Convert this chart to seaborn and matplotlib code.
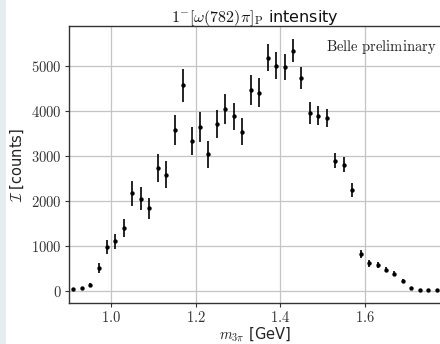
import numpy as np
import pandas as pd
import matplotlib
matplotlib.use("Agg")
import matplotlib.pyplot as plt
import seaborn as sns
from matplotlib.patches import Rectangle

# ---- data ----
mass = [0.91, 0.93, 0.95, 0.97, 0.99, 1.01, 1.03, 1.05, 1.07, 1.09,
        1.11, 1.13, 1.15, 1.17, 1.19, 1.21, 1.23, 1.25, 1.27, 1.29,
        1.31, 1.33, 1.35, 1.37, 1.39, 1.41, 1.43, 1.45, 1.47, 1.49,
        1.51, 1.53, 1.55, 1.57, 1.59, 1.61, 1.63, 1.65, 1.67, 1.69,
        1.71, 1.73, 1.75, 1.77]
intensity = [30, 50, 135, 510, 970, 1095, 1385, 2165, 2045, 1830,
             2720, 2580, 3570, 4565, 3320, 3630, 3030, 3700, 4030, 3870,
             3530, 4460, 4400, 5175, 5000, 4965, 5335, 4730, 3950, 3890,
             3830, 2890, 2795, 2235, 815, 605, 565, 465, 370, 220,
             60, 10, 5, 5]
errors = [15, 20, 40, 110, 165, 160, 200, 280, 250, 235,
          310, 300, 335, 370, 315, 330, 300, 310, 335, 310,
          300, 335, 315, 300, 305, 290, 265, 250, 240, 220,
          200, 175, 165, 150, 90, 75, 65, 60, 55, 45,
          25, 10, 8, 8]
xtick_vals = [1.0, 1.2, 1.4, 1.6]
xtick_labels = ["$1.0$", "$1.2$", "$1.4$", "$1.6$"]
ytick_vals = [0, 1000, 2000, 3000, 4000, 5000]
ytick_labels = ["$0$", "$1000$", "$2000$", "$3000$", "$4000$", "$5000$"]

df = pd.DataFrame({"m": mass, "I": intensity, "err": errors})

sns.set_theme(style="whitegrid")
plt.rcParams["font.family"] = ["DejaVu Sans"]
plt.rcParams["mathtext.fontset"] = "cm"

fig = plt.figure(figsize=(4.4, 3.44), dpi=100)
fig.patch.set_facecolor("white")
fig.patches.append(Rectangle((0, 0), 6 / 440, 1, transform=fig.transFigure,
                             facecolor="#e5edf0", edgecolor="none", zorder=-10))
ax = fig.add_axes([69 / 440, 41 / 344, 372 / 440, 277 / 344])
ax.set_facecolor("white")

ax.errorbar(df["m"], df["I"], yerr=df["err"], fmt="none", ecolor="black",
            elinewidth=1.2, capsize=0, zorder=3)
sns.scatterplot(data=df, x="m", y="I", ax=ax, color="black", s=10,
                edgecolor="black", linewidth=0, zorder=4)

ax.set_xlim(0.9, 1.78)
ax.set_ylim(-275, 5880)
ax.set_xticks(xtick_vals)
ax.set_xticklabels(xtick_labels, fontsize=10.5)
ax.set_yticks(ytick_vals)
ax.set_yticklabels(ytick_labels, fontsize=10.5)

ax.grid(True, color="#c4c4c4", linewidth=0.9)
ax.tick_params(axis="both", which="major", direction="out", length=3,
               width=0.8, color="#333333", labelcolor="#333333", pad=2,
               bottom=True, left=True)
for side in ["left", "bottom", "top"]:
    ax.spines[side].set_visible(True)
    ax.spines[side].set_color("#333333")
    ax.spines[side].set_linewidth(1.0)
ax.spines["right"].set_visible(False)

ax.set_xlabel(r"$m_{3\pi}$ [GeV]", fontsize=10.5, color="#222222", labelpad=0)
ax.set_ylabel(r"$\mathcal{I}$ [counts]", fontsize=10.5, color="#222222", labelpad=4)
ax.set_title(r"$1^{-}[\omega(782)\pi]_{\mathrm{P}}$ intensity", fontsize=11.5,
             color="#111111", pad=3)
ax.text(0.988, 0.925, r"$\mathrm{Belle\ preliminary}$", transform=ax.transAxes,
        ha="right", va="center", fontsize=10.5, color="#222222")

fig.savefig("out.png", dpi=100)
